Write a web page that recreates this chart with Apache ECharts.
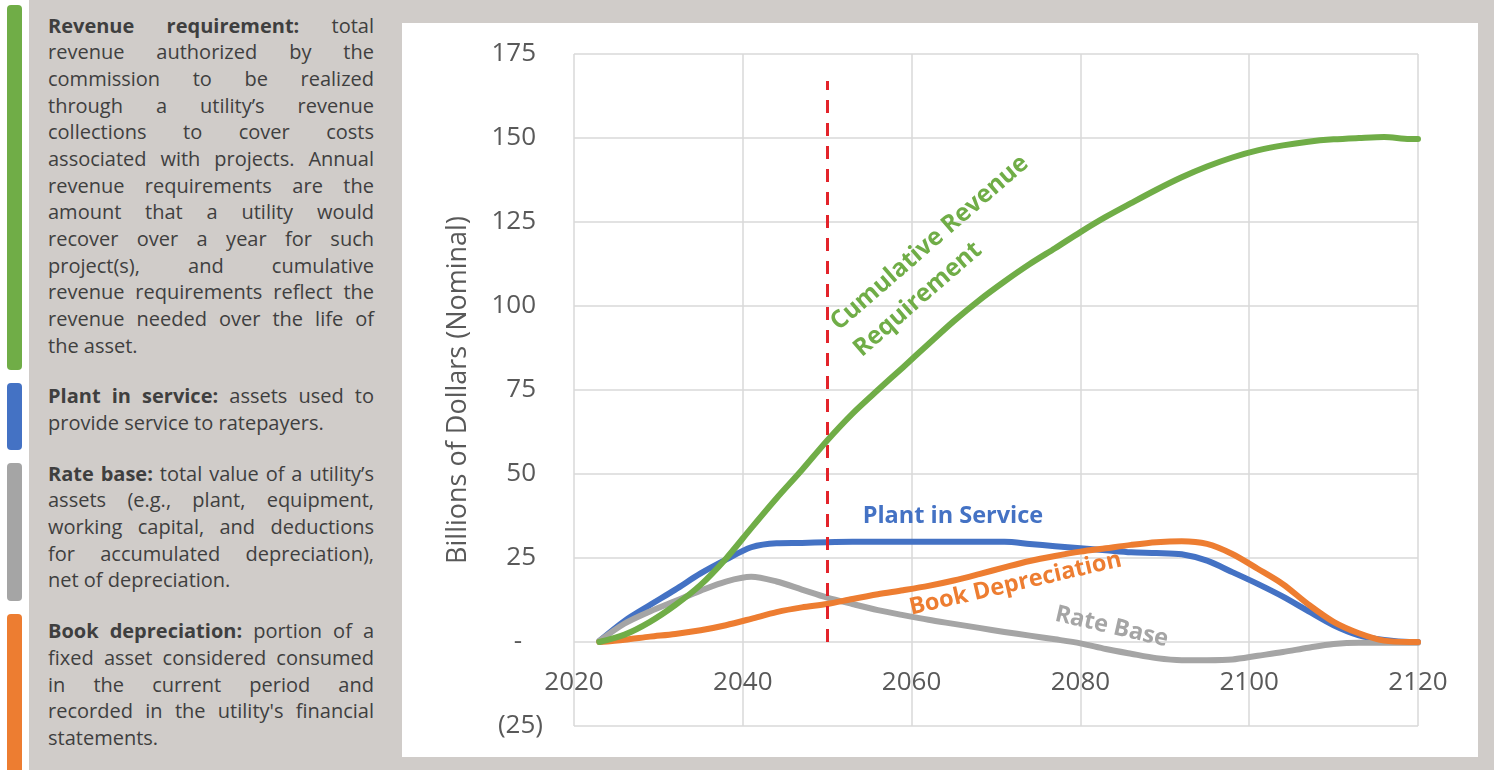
<!DOCTYPE html>
<html>
<head>
<meta charset="utf-8">
<script src="https://cdn.jsdelivr.net/npm/echarts/dist/echarts.min.js"></script>
<style>
html,body{margin:0;padding:0;width:1494px;height:770px;overflow:hidden;background:#ffffff;font-family:'Open Sans',sans-serif;}
#bg{position:absolute;left:29px;top:0;width:1465px;height:770px;background:#d0ccc9;}
.bar{position:absolute;left:7px;width:15px;border-radius:4px;}
.para{position:absolute;left:48px;width:326px;color:#3f3f3f;font-size:20px;line-height:26.67px;}
.para div{text-align:justify;text-align-last:justify;}
.para div.l{text-align:left;text-align-last:left;}
#chart{position:absolute;left:402px;top:23px;width:1076px;height:734px;background:#ffffff;}
</style>
</head>
<body>
<div id="bg"></div>
<div class="bar" style="top:5px;height:365px;background:#70ad47;"></div>
<div class="bar" style="top:383px;height:67px;background:#4472c4;"></div>
<div class="bar" style="top:463px;height:138px;background:#a5a5a5;"></div>
<div class="bar" style="top:614px;height:170px;background:#ed7d31;"></div>

<div class="para" style="top:12.7px;">
<div><b>Revenue requirement:</b> total</div>
<div>revenue authorized by the</div>
<div>commission to be realized</div>
<div>through a utility’s revenue</div>
<div>collections to cover costs</div>
<div>associated with projects. Annual</div>
<div>revenue requirements are the</div>
<div>amount that a utility would</div>
<div>recover over a year for such</div>
<div>project(s), and cumulative</div>
<div>revenue requirements reflect the</div>
<div>revenue needed over the life of</div>
<div class="l">the asset.</div>
</div>
<div class="para" style="top:383.4px;">
<div><b>Plant in service:</b> assets used to</div>
<div class="l">provide service to ratepayers.</div>
</div>
<div class="para" style="top:460.7px;">
<div><b>Rate base:</b> total value of a utility’s</div>
<div>assets (e.g., plant, equipment,</div>
<div>working capital, and deductions</div>
<div>for accumulated depreciation),</div>
<div class="l">net of depreciation.</div>
</div>
<div class="para" style="top:618.4px;">
<div><b>Book depreciation:</b> portion of a</div>
<div>fixed asset considered consumed</div>
<div>in the current period and</div>
<div>recorded in the utility's financial</div>
<div class="l">statements.</div>
</div>

<div id="chart"></div>

<script>
// ---- data ----
const years = [2023,2026,2029,2032,2035,2038,2041,2044,2047,2050,2053,2056,2059,2062,2065,2068,2071,2074,2077,2080,2083,2086,2089,2092,2095,2098,2101,2104,2107,2110,2113,2116,2119,2120];
const cumulativeRevenue = [0,2.2,6,11,17,24.8,33.9,42.8,51.2,60,68,75,81.8,88.7,95.5,101.7,107.3,112.5,117.2,122,126.5,130.6,134.6,138.3,141.5,144.2,146.3,147.8,148.9,149.6,150,150.3,149.7,149.7];
const plantInService = [0.3,6.3,11,15.6,20.4,24.5,28.2,29.4,29.5,29.7,29.8,29.8,29.8,29.8,29.8,29.8,29.8,29.2,28.5,27.9,27.3,26.7,26.5,26.1,24.2,20.8,17.3,13.5,9.2,5,2,0.6,0,0];
const bookDepreciation = [0,0.7,1.6,2.4,3.5,5,6.9,8.9,10.3,11.3,12.8,14.2,15.4,16.7,18.3,20.2,22.2,24.1,25.6,26.9,27.9,28.9,29.7,30,29.2,26.2,21.8,17.2,11.2,6,2.6,0.4,0,0];
const rateBase = [0.3,5.5,9.1,12.2,15.3,18,19.4,18,15.6,13.2,11.3,9.5,8,6.6,5.4,4.2,3,1.9,0.8,-0.4,-2.1,-3.5,-4.8,-5.4,-5.4,-5.2,-4.1,-3,-1.7,-0.6,-0.2,-0.2,-0.2,-0.2];
const seriesNames = ['Plant in Service','Rate Base','Book Depreciation','Cumulative Revenue Requirement'];
const xTicks = [2020,2040,2060,2080,2100,2120];
const yTicks = [-25,0,25,50,75,100,125,150,175];
const yTickLabels = ['(25)','-','25','50','75','100','125','150','175'];
const markerYear = 2050;
const markerTop = 167;

const COLORS = {blue:'#4472c4', gray:'#a5a5a5', orange:'#ed7d31', green:'#70ad47', red:'#e3232a'};
const pairs = arr => years.map((y,i)=>[y,arr[i]]);

const chart = echarts.init(document.getElementById('chart'), null, {renderer:'canvas'});
const axisFont = {fontFamily:'Open Sans', fontSize:26, color:'#595959'};
const grid = {left:172, right:60, top:31, bottom:31, containLabel:false, outerBoundsMode:'none'};
const plotH = 734 - grid.top - grid.bottom;
const yMin = yTicks[0], yMax = yTicks[yTicks.length-1];
const zeroOffset = -plotH * (0 - yMin) / (yMax - yMin);

function lineSeries(name, data, color, z){
  return {name, type:'line', data:pairs(data), showSymbol:false, smooth:0.3, z,
    lineStyle:{color, width:6, cap:'round', join:'round'}, itemStyle:{color}};
}

const option = {
  animation:false,
  grid,
  xAxis:{type:'value', min:xTicks[0], max:xTicks[xTicks.length-1], interval:20,
    position:'bottom', offset:zeroOffset,
    axisLine:{show:false, onZero:false},
    axisTick:{show:false},
    axisLabel:Object.assign({margin:28, formatter:v=>String(v)}, axisFont),
    splitLine:{show:true, lineStyle:{color:'#d9d9d9', width:1.5}}},
  yAxis:{type:'value', min:yMin, max:yMax, interval:25,
    name:'Billions of Dollars (Nominal)', nameLocation:'middle', nameGap:102, nameRotate:90,
    nameMoveOverlap:false,
    nameTextStyle:{fontFamily:'Open Sans', fontSize:27, color:'#595959'},
    axisLine:{show:false}, axisTick:{show:false},
    axisLabel:{margin:31,
      formatter:v=>{const s=yTickLabels[yTicks.indexOf(v)]; if(v<0) return '{n|'+s+'}'; if(v===0) return '{z|'+s+'}'; return '{p|'+s+'}';},
      rich:{
        n:Object.assign({}, axisFont),
        z:Object.assign({padding:[0,21,0,0]}, axisFont),
        p:Object.assign({padding:[0,7,0,0]}, axisFont)
      }},
    splitLine:{show:true, lineStyle:{color:'#d9d9d9', width:1.5}}},
  series:[
    lineSeries(seriesNames[0], plantInService, COLORS.blue, 2),
    lineSeries(seriesNames[1], rateBase, COLORS.gray, 3),
    Object.assign(lineSeries(seriesNames[2], bookDepreciation, COLORS.orange, 4), {
      markLine:{silent:true, symbol:['none','none'], label:{show:false},
        lineStyle:{color:COLORS.red, width:3, type:[13,10]},
        data:[[{coord:[markerYear,0]},{coord:[markerYear,markerTop]}]]}
    }),
    lineSeries(seriesNames[3], cumulativeRevenue, COLORS.green, 5)
  ]
};
chart.setOption(option);

// series annotations placed in data coordinates
const notes = [
  {text:'Plant in Service', at:[2064.9,37.5], color:COLORS.blue, rot:0, align:'center', size:23.5},
  {text:'Book Depreciation', at:[2072.3,17.3], color:COLORS.orange, rot:13, align:'center', size:23.5},
  {text:'Rate Base', at:[2083.7,4.5], color:COLORS.gray, rot:-13, align:'center', size:23.5},
  {text:'Cumulative Revenue\nRequirement', at:[2052.2,90.2], color:COLORS.green, rot:41, align:'left', size:24.5}
];
const graphic = notes.map(n=>{
  const p = chart.convertToPixel({gridIndex:0}, n.at);
  return {type:'text', x:p[0], y:p[1], rotation:n.rot*Math.PI/180, z:100,
    style:{text:n.text, fill:n.color, fontFamily:'Open Sans', fontWeight:'bold', fontSize:n.size,
      lineHeight:35, align:n.align, verticalAlign:'middle'}};
});
chart.setOption({graphic});
</script>
</body>
</html>
